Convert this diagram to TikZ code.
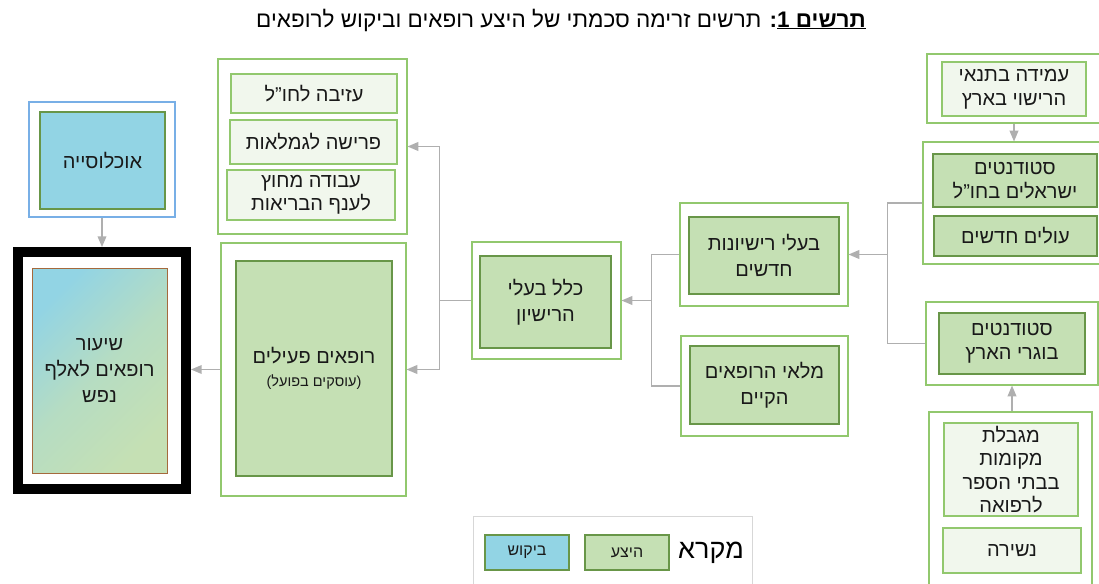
\documentclass[tikz,border=0pt]{standalone}
\usepackage{fontspec}
\setmainfont{Liberation Sans}[Script=Hebrew]
\usetikzlibrary{arrows, calc, positioning}
\TeXXeTstate=1
\definecolor{edgegreen}{RGB}{146,200,110}
\definecolor{darkgreen}{RGB}{104,150,72}
\definecolor{supplyfill}{RGB}{197,224,180}
\definecolor{palefill}{RGB}{241,247,237}
\definecolor{demandfill}{RGB}{146,212,228}
\definecolor{popblue}{RGB}{120,175,230}
\definecolor{linkgray}{RGB}{175,175,175}
\definecolor{ratebrown}{RGB}{165,105,60}
\definecolor{legendgray}{RGB}{215,215,215}
\newcommand{\heb}[1]{\beginR #1\endR}

\begin{document}
\begin{tikzpicture}[x=1pt, y=-1pt, >=triangle 45,
    wh/.style 2 args={minimum width=#1, minimum height=#2, inner sep=0pt},
    txt/.style={font=\fontsize{20}{26}\selectfont, align=center, text=black!90},
    group/.style={draw=edgegreen, line width=1.1pt, fill=white},
    supply/.style={txt, draw=darkgreen, line width=1.1pt, fill=supplyfill},
    pale/.style={txt, draw=edgegreen, line width=1.1pt, fill=palefill},
    demand/.style={txt, draw=darkgreen, line width=1.1pt, fill=demandfill},
    link/.style={draw=linkgray, line width=1.5pt}]
    \clip (0,0) rectangle (1099,583);

    % כותרת
    \node[font=\fontsize{22.5}{26}\selectfont] (title) at (561,20)
        {\heb{\textbf{\underline{\heb{תרשים 1}}:} תרשים זרימה סכמתי של היצע רופאים וביקוש לרופאים}};

    % ביקוש ושיעור
    \node[group, draw=popblue, wh={146}{115}] (popout) at (102,159.5) {};
    \node[demand, wh={125}{97}] (pop) at (102.5,160.5) {\heb{אוכלוסייה}};
    \node[draw=black, line width=10pt, wh={168}{237}] (rate) at (102,370.5) {};
    \node[txt, draw=ratebrown, line width=1pt, top color=demandfill, bottom color=supplyfill,
        middle color=supplyfill!70!demandfill, shading angle=45, wh={135}{205}] (rateval) at (99.5,370.5)
        {\heb{שיעור}\\\heb{רופאים לאלף}\\\heb{נפש}};

    % רופאים פעילים ועוזבים
    \node[group, wh={185}{253}] (docout) at (313.5,369.5) {};
    \node[supply, wh={156}{215}] (doc) at (314,368.5)
        {\heb{רופאים פעילים}\\[-3pt]{\fontsize{14.5}{17}\selectfont )\heb{עוסקים בפועל}(}};
    \node[group, wh={189}{175}] (leaveout) at (312.5,146.5) {};
    \node[pale, wh={166}{39}] (abroad) at (314,93.5) {\heb{עזיבה לחו"ל}};
    \node[pale, wh={167}{44}] (retire) at (313.5,142) {\heb{פרישה לגמלאות}};
    \node[pale, wh={168}{50}, font=\fontsize{20}{23}\selectfont] (otherjob) at (311,195)
        {\heb{עבודה מחוץ}\\\heb{לענף הבריאות}};

    % בעלי רישיון
    \node[group, wh={149}{117}] (totout) at (546.5,300.5) {};
    \node[supply, wh={131}{92}] (tot) at (545.5,302) {\heb{כלל בעלי}\\\heb{הרישיון}};
    \node[group, wh={168}{103}] (newout) at (764,254.5) {};
    \node[supply, wh={150}{77}] (new) at (764,255.5) {\heb{בעלי רישיונות}\\\heb{חדשים}};
    \node[group, wh={167}{100}] (stockout) at (764.5,386) {};
    \node[supply, wh={149}{78}] (stock) at (764.5,385) {\heb{מלאי הרופאים}\\\heb{הקיים}};

    % מקורות
    \node[group, wh={178}{69}] (condout) at (1016,88.5) {};
    \node[pale, wh={144}{54}, font=\fontsize{20}{24}\selectfont] (cond) at (1014,89) {\heb{עמידה בתנאי}\\\heb{הרישוי בארץ}};
    \node[group, wh={182}{122}] (studout) at (1014,203) {};
    \node[supply, wh={164}{53}, font=\fontsize{20}{24}\selectfont] (studabroad) at (1015,180.5) {\heb{סטודנטים}\\\heb{ישראלים בחו"ל}};
    \node[supply, wh={163}{40}] (olim) at (1015.5,236) {\heb{עולים חדשים}};
    \node[group, wh={172}{83}] (localout) at (1012,343.5) {};
    \node[supply, wh={146}{61}, font=\fontsize{20}{24}\selectfont] (local) at (1012,343.5) {\heb{סטודנטים}\\\heb{בוגרי הארץ}};
    \node[group, wh={163}{188}] (limout) at (1010.5,506) {};
    \node[pale, wh={134}{93}, font=\fontsize{20}{23.5}\selectfont] (places) at (1011,469.5)
        {\heb{מגבלת}\\\heb{מקומות}\\\heb{בבתי הספר}\\\heb{לרפואה}};
    \node[pale, wh={138}{45}] (dropout) at (1012,550.5) {\heb{נשירה}};

    % מקרא
    \node[draw=legendgray, line width=1pt, fill=white, wh={279}{84}] (legend) at (612.5,558) {};
    \node[demand, wh={84}{35}, font=\fontsize{16}{19}\selectfont] (legdemand) at (527,552.5) {\heb{ביקוש}};
    \node[supply, wh={84}{35}, font=\fontsize{16}{19}\selectfont] (legsupply) at (627,552.5) {\heb{היצע}};
    \node[font=\fontsize{27}{30}\selectfont] (legtitle) at (711,553) {\heb{מקרא}};

    % חיבורים
    \draw[link, ->] (popout.south) -- (rate.north);
    \draw[link, ->] (docout.west) -- (docout.west -| rate.east);
    \coordinate (splitL) at ($(totout.west)+(-32,0)$);
    \draw[link, ->] (totout.west) -- (splitL) |- (leaveout.east);
    \draw[link, ->] (splitL) |- (docout.east);
    \coordinate (splitM) at ($(totout.east)+(30,0)$);
    \draw[link] (newout.west) -| (splitM) |- (stockout.west);
    \draw[link, ->] (splitM) -- (totout.east);
    \coordinate (splitR) at ($(newout.east)+(39,0)$);
    \draw[link] (studout.west) -| (splitR) |- (localout.west);
    \draw[link, ->] (splitR) -- (newout.east);
    \draw[link, ->] (studout.north |- condout.south) -- (studout.north);
    \draw[link, ->] (local.south |- limout.north) -- (local.south |- localout.south);
\end{tikzpicture}
\end{document}
